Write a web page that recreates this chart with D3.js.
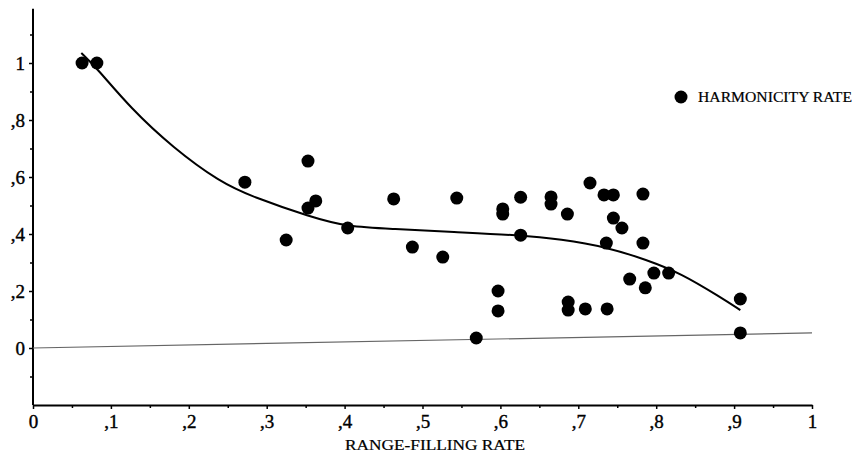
<!DOCTYPE html>
<html>
<head>
<meta charset="utf-8">
<script src="https://cdn.jsdelivr.net/npm/d3@7"></script>
<style>
  body { margin: 0; background: #fff; }
  svg text { font-family: "Liberation Serif", "DejaVu Serif", serif; fill: #000; }
</style>
</head>
<body>
<div id="chart"></div>
<script>
// scatter: range-filling rate vs harmonicity rate
var pointX = [0.063, 0.082, 0.272, 0.325, 0.353, 0.353, 0.363, 0.404, 0.463, 0.487,
              0.526, 0.544, 0.569, 0.603, 0.603, 0.626, 0.626, 0.665, 0.665, 0.686,
              0.715, 0.733, 0.745, 0.745, 0.756, 0.783, 0.783, 0.736, 0.766, 0.797,
              0.816, 0.786, 0.597, 0.597, 0.687, 0.687, 0.709, 0.737, 0.908, 0.908];
var pointY = [1.0, 1.0, 0.582, 0.379, 0.656, 0.491, 0.516, 0.421, 0.523, 0.354,
              0.319, 0.526, 0.035, 0.488, 0.470, 0.529, 0.396, 0.530, 0.505, 0.470,
              0.579, 0.537, 0.537, 0.456, 0.421, 0.540, 0.368, 0.368, 0.242, 0.263,
              0.263, 0.211, 0.200, 0.130, 0.161, 0.133, 0.137, 0.137, 0.172, 0.053];

// fitted curve
var curveX = [0.062, 0.082, 0.125, 0.180, 0.240, 0.282, 0.356, 0.404, 0.462, 0.539,
              0.625, 0.677, 0.737, 0.788, 0.831, 0.882, 0.908];
var curveY = [1.035, 0.982, 0.842, 0.702, 0.582, 0.530, 0.460, 0.425, 0.418, 0.407,
              0.396, 0.382, 0.354, 0.309, 0.263, 0.179, 0.133];

// thin reference line
var refX = [0, 1];
var refY = [0, 0.053];

var xTicks = [0, 0.1, 0.2, 0.3, 0.4, 0.5, 0.6, 0.7, 0.8, 0.9, 1];
var xMinor = [0.05, 0.15, 0.25, 0.35, 0.45, 0.55, 0.65, 0.75, 0.85, 0.95];
var yTicks = [0, 0.2, 0.4, 0.6, 0.8, 1];
var yMinor = [-0.1, 0.1, 0.3, 0.5, 0.7, 0.9, 1.1];

var xTitle = "RANGE-FILLING RATE";
var legendLabel = "HARMONICITY RATE";

var width = 857;
var height = 456;

var svg = d3.select("#chart")
    .append("svg")
    .attr("width", width)
    .attr("height", height);

var x = d3.scaleLinear().domain([0, 1]).range([33, 812]);
var y = d3.scaleLinear().domain([-0.2, 1.2]).range([405, 6]);

function fmt(d) {
    if (d === 0) return "0";
    if (d === 1) return "1";
    return d3.format(".1f")(d).replace("0.", ",");
}

// x axis
var xAxis = svg.append("g")
    .attr("transform", "translate(0," + y(-0.2) + ")")
    .call(d3.axisBottom(x).tickValues(xTicks).tickFormat(fmt).tickSize(4).tickPadding(6).tickSizeOuter(0));
svg.append("g")
    .attr("transform", "translate(0," + y(-0.2) + ")")
    .call(d3.axisBottom(x).tickValues(xMinor).tickFormat("").tickSize(3).tickSizeOuter(0))
    .select(".domain").remove();

// y axis
var yAxis = svg.append("g")
    .attr("transform", "translate(" + x(0) + ",0)")
    .call(d3.axisLeft(y).tickValues(yTicks).tickFormat(fmt).tickSize(4).tickPadding(4).tickSizeOuter(0));
yAxis.select(".domain").attr("d", "M0," + y(-0.2) + "V" + y(1.19));
svg.append("g")
    .attr("transform", "translate(" + x(0) + ",0)")
    .call(d3.axisLeft(y).tickValues(yMinor).tickFormat("").tickSize(3).tickSizeOuter(0))
    .select(".domain").remove();

svg.selectAll(".domain").attr("stroke", "#000").attr("stroke-width", 2);
svg.selectAll(".tick line").attr("stroke", "#000").attr("stroke-width", 1.5);
svg.selectAll("g").attr("font-family", null).attr("font-size", null);
svg.selectAll(".tick text")
    .attr("font-size", 19)
    .style("font-size", "19px")
    .attr("stroke", "#000")
    .attr("stroke-width", 0.4);

// x title
svg.append("text")
    .attr("x", 435)
    .attr("y", 450)
    .attr("text-anchor", "middle")
    .attr("textLength", 180)
    .attr("lengthAdjust", "spacingAndGlyphs")
    .attr("stroke", "#000")
    .attr("stroke-width", 0.2)
    .style("font-size", "14px")
    .text(xTitle);

// reference line
var refData = refX.map(function(d, i) { return [d, refY[i]]; });
svg.append("path")
    .datum(refData)
    .attr("fill", "none")
    .attr("stroke", "#666")
    .attr("stroke-width", 1.2)
    .attr("d", d3.line().x(function(d) { return x(d[0]); }).y(function(d) { return y(d[1]); }));

// fitted curve
var curveData = curveX.map(function(d, i) { return [d, curveY[i]]; });
svg.append("path")
    .datum(curveData)
    .attr("fill", "none")
    .attr("stroke", "#000")
    .attr("stroke-width", 2)
    .attr("d", d3.line()
        .curve(d3.curveBasis)
        .x(function(d) { return x(d[0]); })
        .y(function(d) { return y(d[1]); }));

// points
var pts = pointX.map(function(d, i) { return [d, pointY[i]]; });
svg.append("g")
    .selectAll("circle")
    .data(pts)
    .enter()
    .append("circle")
    .attr("cx", function(d) { return x(d[0]); })
    .attr("cy", function(d) { return y(d[1]); })
    .attr("r", 6.5)
    .attr("fill", "#000");

// legend
svg.append("circle")
    .attr("cx", 681)
    .attr("cy", 97)
    .attr("r", 6.5)
    .attr("fill", "#000");
svg.append("text")
    .attr("x", 698)
    .attr("y", 102)
    .attr("textLength", 154)
    .attr("lengthAdjust", "spacingAndGlyphs")
    .attr("stroke", "#000")
    .attr("stroke-width", 0.2)
    .style("font-size", "14px")
    .text(legendLabel);
</script>
</body>
</html>
